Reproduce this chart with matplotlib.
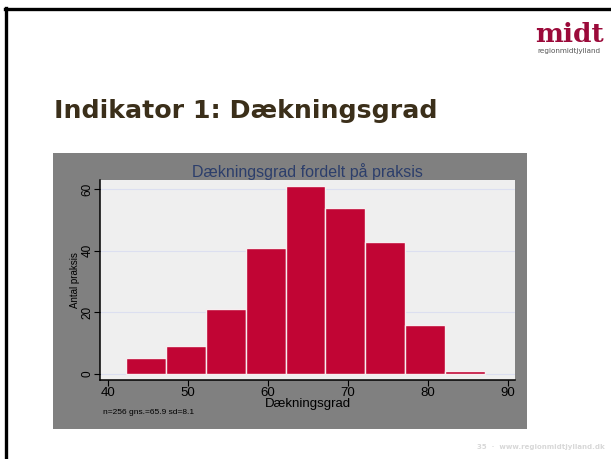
import numpy as np
import matplotlib
matplotlib.use("Agg")
import matplotlib.pyplot as plt
from matplotlib.patches import Rectangle
from matplotlib.lines import Line2D

# histogram
bin_edges = [42.2, 47.2, 52.2, 57.2, 62.2, 67.2, 72.2, 77.2, 82.2, 87.2]
counts = [5, 9, 21, 41, 61, 54, 43, 16, 1]
x_ticks = [40, 50, 60, 70, 80, 90]
y_ticks = [0, 20, 40, 60]

slide_title = "Indikator 1: Dækningsgrad"
chart_title = "Dækningsgrad fordelt på praksis"
x_label = "Dækningsgrad"
y_label = "Antal praksis"
note = "n=256 gns.=65.9 sd=8.1"
footer = "35  ·  www.regionmidtjylland.dk"

W, H = 611, 459
fig = plt.figure(figsize=(W / 100, H / 100), dpi=100)
fig.patch.set_facecolor("white")

def fx(px):
    return px / W

def fy(py):
    return 1 - py / H

# slide frame (top and left black lines)
fig.add_artist(Line2D([fx(6), fx(6)], [fy(8), fy(459)], color="black", lw=2.4,
                      transform=fig.transFigure))
fig.add_artist(Line2D([fx(5), fx(611)], [fy(9), fy(9)], color="black", lw=2.4,
                      transform=fig.transFigure))

# logo
fig.text(fx(569), fy(35), "midt", color="#9B0A3A", fontsize=19, fontweight="bold",
         family="DejaVu Serif", ha="center", va="center")
fig.text(fx(569), fy(51), "regionmidtjylland", color="#555555", fontsize=5.2,
         ha="center", va="center")

# slide title
fig.text(fx(54), fy(111), slide_title, color="#3B2F1A", fontsize=18.2,
         fontweight="bold", ha="left", va="center")

# footer
fig.text(fx(605), fy(447), footer, color="#D8D8D8", fontsize=5, fontweight="bold",
         ha="right", va="center")

# gray graph panel
fig.add_artist(Rectangle((fx(53), fy(429)), fx(527) - fx(53), fy(153) - fy(429),
                         facecolor="#808080", edgecolor="none",
                         transform=fig.transFigure, zorder=0))

cf = "Liberation Sans"
ax = fig.add_axes([fx(100), fy(380), fx(515) - fx(100), fy(180) - fy(380)])
ax.set_facecolor("#EFEFEF")

ax.bar(bin_edges[:-1], counts, width=np.diff(bin_edges), align="edge",
       color="#C10534", edgecolor="#F7EEF0", linewidth=1.0, zorder=3)

ax.set_xlim(39, 90.9)
ax.set_ylim(-2, 63)
ax.set_xticks(x_ticks)
ax.set_yticks(y_ticks)
ax.grid(axis="y", color="#DCDFF0", lw=0.8, zorder=0)

for s in ["top", "right"]:
    ax.spines[s].set_visible(False)
ax.spines["left"].set_linewidth(1.1)
ax.spines["bottom"].set_linewidth(1.1)

ax.tick_params(axis="x", length=4, pad=1, color="black")
ax.tick_params(axis="y", length=4, pad=0.5, color="black")
for lbl in ax.get_xticklabels():
    lbl.set_fontfamily(cf)
    lbl.set_fontsize(9.5)
for lbl in ax.get_yticklabels():
    lbl.set_fontfamily(cf)
    lbl.set_fontsize(8.5)
    lbl.set_rotation(90)
    lbl.set_va("center")

ax.set_xlabel(x_label, fontsize=9.5, family=cf, labelpad=-1)
ax.set_ylabel(y_label, fontsize=7, family=cf, labelpad=1.5)
ax.set_title(chart_title, fontsize=11.5, family=cf, color="#2C3E6B", pad=2)

fig.text(fx(103), fy(413), note, fontsize=6, family=cf, ha="left", va="center")

fig.savefig("out.png", dpi=100)
